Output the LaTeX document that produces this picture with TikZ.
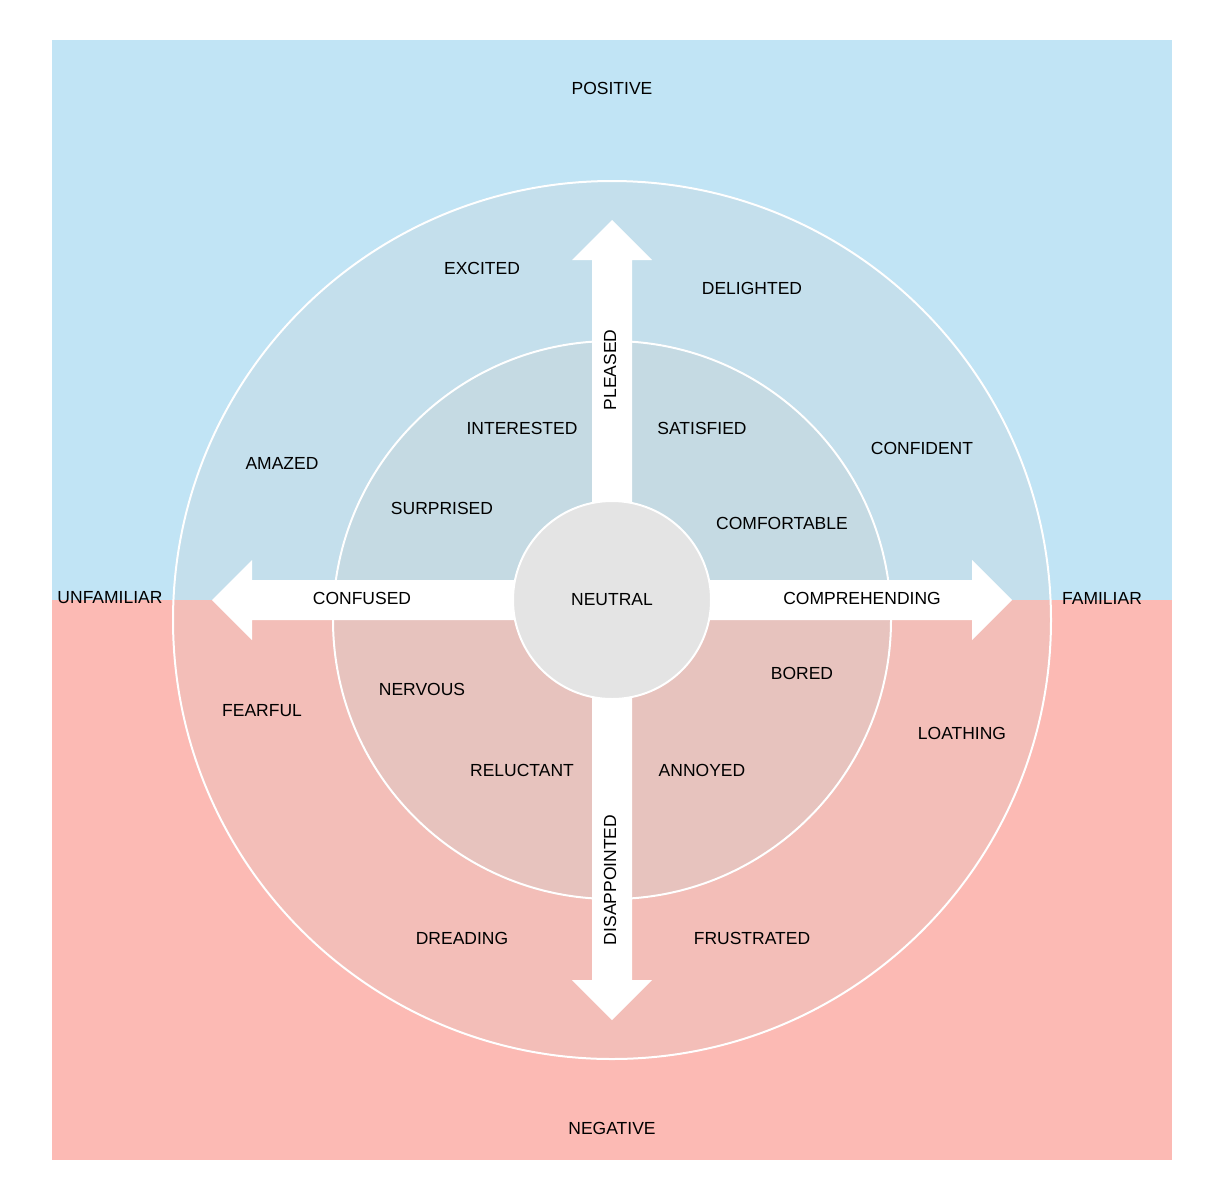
\documentclass[tikz,border=0pt]{standalone}
\usepackage{fontspec}
\setmainfont{Liberation Sans}
\definecolor{bgblue}{RGB}{193,228,245}
\definecolor{bgpink}{RGB}{252,186,180}
\definecolor{outblue}{RGB}{196,223,236}
\definecolor{outpink}{RGB}{243,190,184}
\definecolor{inblue}{RGB}{197,218,227}
\definecolor{inpink}{RGB}{231,195,190}
\definecolor{neutralgray}{RGB}{228,228,228}
\begin{document}
\begin{tikzpicture}[x=1pt,y=-1pt,
  lbl/.style={font=\fontsize{17.5}{20}\selectfont, text=black, inner sep=0pt},
  ring/.style={draw=white, line width=2pt},
  bigarrow/.style={fill=white}]
\useasboundingbox (0,0) rectangle (1212,1200);
\fill[white] (0,0) rectangle (1212,1200);
% backgrounds
\fill[bgblue] (52,40) rectangle (1172,600);
\fill[bgpink] (52,600) rectangle (1172,1160);
% circle halves
\begin{scope}
  \clip (0,0) rectangle (1212,600);
  \fill[outblue] (612,620) circle (440);
  \fill[inblue] (612,620) circle (280);
\end{scope}
\begin{scope}
  \clip (0,600) rectangle (1212,1200);
  \fill[outpink] (612,620) circle (440);
  \fill[inpink] (612,620) circle (280);
\end{scope}
\draw[ring] (612,620) circle (439);
\draw[ring] (612,620) circle (279);
% arrows
\fill[bigarrow] (612,220) -- (652,260) -- (632,260) -- (632,980) -- (652,980)
  -- (612,1020) -- (572,980) -- (592,980) -- (592,260) -- (572,260) -- cycle;
\fill[bigarrow] (212,600) -- (252,560) -- (252,580) -- (972,580) -- (972,560)
  -- (1012,600) -- (972,640) -- (972,620) -- (252,620) -- (252,640) -- cycle;
% neutral
\node[circle, fill=neutralgray, draw=white, line width=2pt, minimum size=198pt, inner sep=0pt,
  font=\fontsize{17.5}{20}\selectfont] (neutral) at (612,600) {NEUTRAL};
% labels
\node[lbl] (positive) at (612,88) {POSITIVE};
\node[lbl] (negative) at (612,1128) {NEGATIVE};
\node[lbl] (unfamiliar) at (110,598) {UNFAMILIAR};
\node[lbl] (familiar) at (1102,598) {FAMILIAR};
\node[lbl] (excited) at (482,268) {EXCITED};
\node[lbl] (delighted) at (752,288) {DELIGHTED};
\node[lbl] (amazed) at (282,463) {AMAZED};
\node[lbl] (confident) at (922,448) {CONFIDENT};
\node[lbl] (interested) at (522,428) {INTERESTED};
\node[lbl] (satisfied) at (702,428) {SATISFIED};
\node[lbl] (surprised) at (442,508) {SURPRISED};
\node[lbl] (comfortable) at (782,523) {COMFORTABLE};
\node[lbl] (confused) at (362,598) {CONFUSED};
\node[lbl] (comprehending) at (862,598) {COMPREHENDING};
\node[lbl] (nervous) at (422,689) {NERVOUS};
\node[lbl] (bored) at (802,673) {BORED};
\node[lbl] (fearful) at (262,711) {FEARFUL};
\node[lbl] (loathing) at (962,733) {LOATHING};
\node[lbl] (reluctant) at (522,770) {RELUCTANT};
\node[lbl] (annoyed) at (702,770) {ANNOYED};
\node[lbl] (dreading) at (462,938) {DREADING};
\node[lbl] (frustrated) at (752,938) {FRUSTRATED};
\node[lbl, rotate=90] (pleased) at (610,370) {PLEASED};
\node[lbl, rotate=90] (disappointed) at (610,880) {DISAPPOINTED};
\end{tikzpicture}
\end{document}
